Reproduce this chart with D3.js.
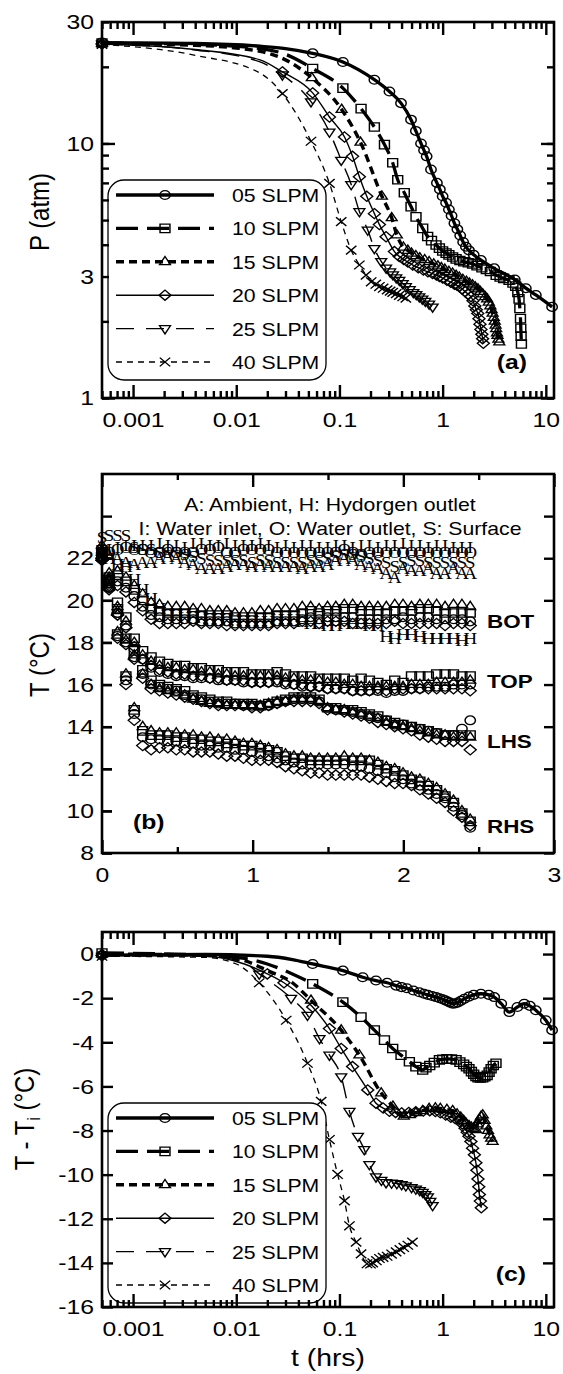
<!DOCTYPE html>
<html lang="en">
<head>
<meta charset="utf-8" />
<title>Pressure and temperature during discharge</title>
<script src="https://cdn.jsdelivr.net/npm/d3@7"></script>
<style>
  html, body { margin: 0; background: #fff; }
  svg { display: block; }
</style>
</head>
<body>
<script>
// ---------- data ----------

const flows = ["05", "10", "15", "20", "25", "40"];

// tick values / labels
const logTicks = [0.001, 0.01, 0.1, 1, 10];
const pTicks = [1, 3, 10, 30];
const hourTicks = [0, 1, 2, 3];
const hourMinor = [0.5, 1.5, 2.5];
const tempTicks = [8, 10, 12, 14, 16, 18, 20, 22];
const tempMarks = [8, 10, 12, 14, 16, 18, 20, 22, 24];
const dropTicks = [-16, -14, -12, -10, -8, -6, -4, -2, 0];

// (a) pressure [t hrs, P atm] : curve-only points and marked samples
const pCurve05 = [[0.004, 24.7], [0.017, 24.1], [0.03, 23.6]];
const pMarks05 = [[0.0005, 24.9], [0.055, 22.6], [0.108, 20.9], [0.218, 17.8], [0.305, 16.0], [0.395, 14.4],
  [0.494, 12.4], [0.55, 11.2], [0.617, 10.0], [0.66, 9.4], [0.70, 8.9], [0.771, 7.9], [0.88, 7.0], [0.94, 6.6],
  [1.0, 6.2], [1.08, 5.85], [1.15, 5.5], [1.22, 5.2], [1.30, 4.86], [1.39, 4.6], [1.48, 4.35], [1.58, 4.1],
  [1.68, 3.93], [1.8, 3.8], [2.0, 3.65], [2.35, 3.48], [3.16, 3.23], [5.0, 2.92], [6.4, 2.70], [8.0, 2.54], [11.5, 2.28]];
const pCurve10 = [[0.004, 24.5], [0.017, 23.6], [0.03, 22.4]];
const pMarks10 = [[0.0005, 24.8], [0.055, 19.7], [0.108, 16.5], [0.162, 13.7], [0.218, 11.6], [0.273, 9.9],
  [0.328, 8.4], [0.367, 7.2], [0.425, 6.4], [0.494, 5.65], [0.552, 5.15], [0.641, 4.64], [0.716, 4.31],
  [0.78, 4.15], [0.863, 3.99], [0.93, 3.88], [1.0, 3.78], [1.08, 3.71], [1.15, 3.65], [1.25, 3.58], [1.35, 3.52],
  [1.47, 3.47], [1.6, 3.43], [1.77, 3.4], [1.95, 3.36], [2.15, 3.31], [2.4, 3.25], [2.65, 3.2], [2.9, 3.14],
  [3.3, 3.04], [3.6, 2.99], [3.9, 2.95], [4.4, 2.9], [4.8, 2.83], [5.1, 2.75], [5.35, 2.6], [5.5, 2.45],
  [5.6, 2.25], [5.68, 2.05], [5.72, 1.88], [5.76, 1.75], [5.8, 1.63]];
const pCurve15 = [[0.004, 24.3], [0.017, 23.0], [0.03, 21.3]];
const pMarks15 = [[0.0005, 24.7], [0.054, 18.1], [0.105, 13.6], [0.16, 10.1], [0.258, 6.2], [0.321, 5.1],
  [0.36, 4.37], [0.417, 3.91], [0.46, 3.8], [0.5, 3.7], [0.55, 3.62], [0.6, 3.55], [0.67, 3.49], [0.74, 3.43],
  [0.82, 3.36], [0.9, 3.3], [0.97, 3.25], [1.05, 3.2], [1.15, 3.14], [1.25, 3.09], [1.35, 3.03], [1.45, 2.98],
  [1.57, 2.92], [1.7, 2.87], [1.82, 2.82], [1.95, 2.78], [2.07, 2.73], [2.2, 2.68], [2.32, 2.62], [2.45, 2.56],
  [2.58, 2.5], [2.7, 2.45], [2.8, 2.38], [2.9, 2.3], [2.98, 2.22], [3.05, 2.15], [3.13, 2.07], [3.2, 2.0],
  [3.26, 1.93], [3.3, 1.87], [3.36, 1.8], [3.4, 1.76], [3.47, 1.7], [3.54, 1.66]];
const pCurve20 = [[0.004, 23.4], [0.017, 21.3]];
const pMarks20 = [[0.0005, 24.6], [0.028, 19.1], [0.055, 15.8], [0.08, 12.7], [0.112, 10.6], [0.134, 8.9],
  [0.156, 7.4], [0.184, 6.2], [0.218, 5.3], [0.244, 4.8], [0.283, 4.3], [0.341, 3.76], [0.38, 3.6], [0.42, 3.5],
  [0.46, 3.42], [0.513, 3.33], [0.58, 3.25], [0.65, 3.18], [0.72, 3.13], [0.8, 3.08], [0.87, 3.04], [0.93, 3.0],
  [1.0, 2.96], [1.1, 2.9], [1.2, 2.85], [1.3, 2.8], [1.38, 2.77], [1.45, 2.74], [1.55, 2.68], [1.65, 2.62],
  [1.76, 2.56], [1.88, 2.5], [1.97, 2.41], [2.05, 2.3], [2.12, 2.22], [2.19, 2.15], [2.25, 2.05], [2.3, 1.95],
  [2.35, 1.86], [2.4, 1.78], [2.44, 1.71], [2.48, 1.64]];
const pCurve25 = [[0.004, 23.3], [0.017, 20.9]];
const pMarks25 = [[0.0005, 24.6], [0.028, 18.6], [0.053, 14.6], [0.08, 11.1], [0.104, 8.6], [0.13, 6.9],
  [0.156, 5.4], [0.188, 4.57], [0.218, 3.87], [0.254, 3.44], [0.283, 3.24], [0.31, 3.13], [0.33, 3.05],
  [0.355, 2.97], [0.38, 2.9], [0.41, 2.82], [0.44, 2.74], [0.48, 2.67], [0.52, 2.6], [0.555, 2.55], [0.594, 2.5],
  [0.635, 2.45], [0.68, 2.4], [0.74, 2.34], [0.8, 2.28]];
const pCurve40 = [[0.004, 22.2], [0.017, 18.9]];
const pMarks40 = [[0.0005, 24.5], [0.028, 15.7], [0.053, 10.2], [0.08, 6.97], [0.104, 4.93], [0.13, 3.81],
  [0.156, 3.33], [0.181, 3.04], [0.203, 2.86], [0.225, 2.8], [0.244, 2.74], [0.265, 2.7], [0.29, 2.66],
  [0.31, 2.63], [0.328, 2.6], [0.355, 2.57], [0.38, 2.53], [0.41, 2.5], [0.44, 2.47]];

// (c) temperature drop [t hrs, T - Ti]
const dCurve05 = [[0.005, -0.02], [0.02, -0.1], [0.035, -0.25]];
const dMarks05 = [[0.0005, -0.05], [0.055, -0.45], [0.108, -0.75], [0.168, -1.05], [0.226, -1.2], [0.29, -1.3],
  [0.354, -1.43], [0.4, -1.5], [0.45, -1.55], [0.52, -1.65], [0.594, -1.73], [0.66, -1.8], [0.72, -1.85],
  [0.79, -1.9], [0.863, -1.95], [0.93, -2.0], [1.0, -2.05], [1.06, -2.1], [1.12, -2.15], [1.18, -2.2],
  [1.25, -2.25], [1.32, -2.24], [1.4, -2.2], [1.5, -2.12], [1.62, -2.03], [1.8, -1.93], [2.0, -1.85],
  [2.35, -1.8], [2.8, -1.85], [3.16, -1.95], [3.7, -2.25], [4.43, -2.63], [5.3, -2.4], [6.18, -2.25],
  [7.0, -2.35], [8.0, -2.55], [10.0, -3.0], [11.5, -3.45]];
const dCurve10 = [[0.005, -0.05], [0.012, -0.2], [0.02, -0.45], [0.035, -0.9]];
const dMarks10 = [[0.0005, 0.05], [0.055, -1.35], [0.108, -2.18], [0.162, -2.86], [0.218, -3.45], [0.273, -3.9],
  [0.328, -4.28], [0.395, -4.58], [0.476, -4.88], [0.55, -5.1], [0.641, -5.25], [0.69, -5.15], [0.75, -5.05],
  [0.83, -4.92], [0.93, -4.8], [1.0, -4.77], [1.1, -4.75], [1.22, -4.76], [1.35, -4.8], [1.47, -4.9],
  [1.6, -5.0], [1.7, -5.1], [1.8, -5.2], [1.9, -5.33], [2.0, -5.45], [2.1, -5.55], [2.2, -5.6], [2.32, -5.62],
  [2.45, -5.6], [2.57, -5.56], [2.7, -5.5], [2.82, -5.35], [2.95, -5.2], [3.1, -5.05], [3.29, -4.95]];
const dCurve15 = [[0.005, -0.05], [0.012, -0.3], [0.02, -0.75], [0.035, -1.3]];
const dMarks15 = [[0.0005, 0.0], [0.053, -2.1], [0.104, -3.45], [0.156, -4.58], [0.254, -6.3], [0.33, -6.9],
  [0.42, -7.35], [0.48, -7.28], [0.55, -7.2], [0.64, -7.1], [0.74, -7.0], [0.85, -6.98], [0.95, -7.0],
  [1.1, -7.05], [1.25, -7.1], [1.38, -7.25], [1.5, -7.4], [1.6, -7.55], [1.68, -7.66], [1.8, -7.78],
  [1.9, -7.85], [2.0, -7.92], [2.1, -7.96], [2.18, -7.7], [2.27, -7.5], [2.36, -7.35], [2.45, -7.3],
  [2.55, -7.55], [2.65, -7.8], [2.75, -8.0], [2.85, -8.2], [2.95, -8.35], [3.05, -8.5]];
const dCurve20 = [[0.005, -0.1], [0.012, -0.45]];
const dMarks20 = [[0.0005, -0.05], [0.02, -0.9], [0.029, -1.3], [0.055, -2.4], [0.08, -3.38], [0.104, -4.28],
  [0.134, -5.1], [0.188, -6.16], [0.226, -6.76], [0.265, -6.98], [0.305, -7.13], [0.35, -7.18], [0.4, -7.2],
  [0.47, -7.18], [0.55, -7.15], [0.65, -7.12], [0.75, -7.1], [0.85, -7.14], [0.95, -7.2], [1.07, -7.3],
  [1.2, -7.4], [1.32, -7.45], [1.45, -7.5], [1.55, -7.7], [1.65, -7.9], [1.73, -8.08], [1.8, -8.26],
  [1.88, -8.5], [1.95, -8.8], [2.03, -9.1], [2.1, -9.46], [2.15, -9.8], [2.2, -10.2], [2.24, -10.55],
  [2.27, -10.9], [2.32, -11.2], [2.37, -11.5]];
const dCurve25 = [[0.005, -0.08], [0.012, -0.4]];
const dMarks25 = [[0.0005, -0.1], [0.0167, -0.9], [0.034, -2.0], [0.049, -2.77], [0.064, -3.83], [0.08, -4.58],
  [0.104, -5.56], [0.125, -7.13], [0.151, -8.26], [0.174, -8.86], [0.195, -9.54], [0.226, -10.1], [0.255, -10.25],
  [0.283, -10.36], [0.32, -10.38], [0.36, -10.4], [0.4, -10.45], [0.44, -10.5], [0.5, -10.58], [0.55, -10.65],
  [0.6, -10.72], [0.641, -10.8], [0.68, -10.9], [0.72, -11.0], [0.76, -11.2], [0.8, -11.4]];
const dCurve40 = [[0.005, -0.15], [0.01, -0.45]];
const dMarks40 = [[0.0005, -0.1], [0.0167, -1.3], [0.0305, -3.0], [0.049, -4.95], [0.0665, -6.68], [0.08, -8.41],
  [0.096, -9.99], [0.112, -11.19], [0.125, -12.32], [0.145, -13.06], [0.162, -13.59], [0.185, -14.04],
  [0.2, -14.05], [0.21, -14.0], [0.228, -13.9], [0.244, -13.8], [0.265, -13.75], [0.29, -13.7], [0.32, -13.6],
  [0.354, -13.5], [0.385, -13.4], [0.42, -13.3], [0.46, -13.2], [0.51, -13.06]];

// (b) surface temperatures, sampled every ~0.056 h
const tB = [0, 0.047, 0.103, 0.159, 0.214, 0.27, 0.326, 0.382, 0.437, 0.493, 0.549, 0.605, 0.66, 0.716, 0.772,
  0.828, 0.883, 0.939, 0.995, 1.051, 1.106, 1.162, 1.218, 1.274, 1.329, 1.385, 1.441, 1.497, 1.552, 1.608,
  1.664, 1.72, 1.775, 1.831, 1.887, 1.943, 1.998, 2.054, 2.11, 2.166, 2.221, 2.277, 2.333, 2.389, 2.444];

const botSq = [22.4, 21.1, 21.2, 20.9, 20.5, 20.0, 19.6, 19.5, 19.4, 19.4, 19.4, 19.4, 19.3, 19.3, 19.3,
  19.3, 19.2, 19.2, 19.2, 19.2, 19.2, 19.3, 19.3, 19.3, 19.4, 19.5, 19.4, 19.5, 19.5, 19.6,
  19.6, 19.5, 19.5, 19.5, 19.4, 19.5, 19.5, 19.5, 19.6, 19.6, 19.5, 19.4, 19.4, 19.4, 19.4];
const botTri = [22.6, 21.3, 21.4, 21.1, 20.7, 20.3, 19.9, 19.8, 19.7, 19.7, 19.7, 19.6, 19.6, 19.5, 19.5,
  19.5, 19.4, 19.4, 19.4, 19.5, 19.5, 19.6, 19.6, 19.6, 19.7, 19.7, 19.6, 19.7, 19.7, 19.8,
  19.8, 19.7, 19.7, 19.7, 19.7, 19.8, 19.8, 19.7, 19.8, 19.8, 19.8, 19.7, 19.8, 19.8, 19.7];
const botCirc = [22.2, 20.9, 20.9, 20.6, 20.2, 19.7, 19.3, 19.2, 19.1, 19.1, 19.1, 19.1, 19.0, 19.0, 19.0,
  19.0, 18.9, 18.9, 18.9, 18.9, 18.9, 19.0, 19.0, 19.0, 19.1, 19.2, 19.1, 19.2, 19.2, 19.2,
  19.2, 19.1, 19.1, 19.1, 19.1, 19.1, 19.2, 19.1, 19.2, 19.2, 19.1, 19.1, 19.1, 19.1, 19.0];
const botDia = [22.0, 20.6, 20.7, 20.4, 19.9, 19.5, 19.1, 18.9, 18.9, 18.9, 18.9, 19.0, 18.9, 18.9, 18.9,
  18.8, 18.8, 18.8, 18.8, 18.8, 18.8, 18.9, 18.9, 18.9, 19.0, 19.0, 18.9, 19.0, 19.0, 19.0,
  18.9, 18.9, 18.9, 18.9, 18.9, 19.0, 18.9, 18.9, 18.9, 18.9, 18.9, 18.8, 18.9, 18.9, 18.8];

const topSq = [22.3, 21.0, 19.9, 19.2, 18.2, 17.6, 17.3, 17.1, 17.0, 16.9, 16.9, 16.8, 16.8, 16.7, 16.7,
  16.6, 16.6, 16.6, 16.5, 16.5, 16.5, 16.6, 16.5, 16.4, 16.4, 16.4, 16.3, 16.3, 16.3, 16.3,
  16.2, 16.3, 16.2, 16.1, 16.0, 16.2, 16.1, 16.4, 16.4, 16.4, 16.5, 16.5, 16.5, 16.4, 16.4];
const topTri = [22.4, 21.1, 19.7, 19.0, 18.0, 17.4, 17.1, 16.9, 16.8, 16.8, 16.7, 16.7, 16.6, 16.6, 16.5,
  16.5, 16.4, 16.4, 16.4, 16.4, 16.4, 16.4, 16.3, 16.3, 16.2, 16.2, 16.2, 16.1, 16.1, 16.0,
  16.0, 15.9, 15.9, 15.9, 15.9, 15.9, 15.9, 16.0, 16.0, 16.0, 16.1, 16.1, 16.1, 16.1, 16.2];
const topCirc = [22.1, 20.8, 19.4, 18.8, 17.7, 17.2, 16.8, 16.6, 16.5, 16.4, 16.4, 16.3, 16.3, 16.3, 16.2,
  16.2, 16.2, 16.1, 16.1, 16.1, 16.1, 16.1, 16.0, 16.0, 15.9, 15.9, 15.9, 15.8, 15.8, 15.8,
  15.7, 15.7, 15.7, 15.7, 15.6, 15.7, 15.7, 15.8, 15.8, 15.9, 15.9, 15.9, 16.0, 16.0, 16.0];
const topDia = [22.0, 20.7, 19.3, 18.7, 17.8, 17.2, 16.9, 16.7, 16.6, 16.5, 16.5, 16.4, 16.4, 16.3, 16.3,
  16.2, 16.2, 16.2, 16.1, 16.1, 16.1, 16.2, 16.1, 16.0, 16.0, 15.9, 15.9, 15.8, 15.8, 15.8,
  15.7, 15.7, 15.7, 15.8, 15.7, 15.8, 15.8, 15.8, 15.8, 15.8, 15.8, 15.8, 15.8, 15.8, 15.7];

const lhsSq = [22.2, 20.9, 19.6, 18.2, 17.6, 16.7, 16.2, 16.0, 15.9, 15.8, 15.7, 15.5, 15.4, 15.3, 15.2,
  15.2, 15.1, 15.1, 15.1, 15.0, 15.1, 15.2, 15.3, 15.4, 15.4, 15.4, 15.3, 14.9, 14.9, 14.8,
  14.8, 14.7, 14.6, 14.5, 14.3, 14.2, 14.1, 14.0, 13.9, 13.8, 13.7, 13.6, 13.6, 13.6, 13.6];
const lhsTri = [22.3, 21.0, 19.5, 18.1, 17.4, 16.5, 16.0, 15.8, 15.7, 15.6, 15.5, 15.3, 15.2, 15.1, 15.1,
  15.0, 15.0, 15.0, 15.0, 15.0, 15.1, 15.2, 15.2, 15.3, 15.3, 15.3, 15.2, 14.9, 14.8, 14.8,
  14.7, 14.6, 14.5, 14.4, 14.2, 14.1, 14.0, 13.9, 13.8, 13.7, 13.6, 13.6, 13.5, 13.5, 13.5];
const lhsCirc = [22.0, 20.8, 19.4, 18.0, 17.3, 16.5, 16.0, 15.9, 15.8, 15.7, 15.5, 15.4, 15.3, 15.2, 15.1,
  15.1, 15.1, 15.0, 15.0, 15.0, 15.0, 15.1, 15.2, 15.3, 15.3, 15.3, 15.2, 14.9, 14.8, 14.8,
  14.7, 14.6, 14.5, 14.4, 14.3, 14.1, 14.1, 14.0, 13.9, 13.8, 13.7, 13.6, 13.6, 13.9, 14.3];
const lhsDia = [21.9, 20.6, 19.3, 17.9, 17.2, 16.3, 15.8, 15.7, 15.6, 15.5, 15.4, 15.3, 15.2, 15.1, 15.0,
  15.0, 15.0, 15.0, 14.9, 14.9, 15.0, 15.1, 15.2, 15.2, 15.2, 15.2, 15.1, 14.8, 14.8, 14.7,
  14.6, 14.5, 14.4, 14.2, 14.1, 14.0, 13.9, 13.8, 13.6, 13.5, 13.4, 13.3, 13.3, 13.3, 12.9];

const rhsSq = [22.1, 20.8, 18.4, 16.4, 14.8, 13.8, 13.6, 13.6, 13.6, 13.5, 13.5, 13.4, 13.4, 13.3, 13.3,
  13.2, 13.2, 13.1, 13.1, 13.0, 12.9, 12.8, 12.6, 12.5, 12.5, 12.4, 12.4, 12.4, 12.4, 12.4,
  12.4, 12.4, 12.4, 12.2, 12.0, 11.9, 11.7, 11.5, 11.4, 11.2, 11.0, 10.7, 10.4, 9.9, 9.5];
const rhsTri = [22.3, 20.9, 18.5, 16.5, 14.9, 14.0, 13.8, 13.7, 13.7, 13.7, 13.6, 13.6, 13.5, 13.5, 13.4,
  13.4, 13.3, 13.2, 13.2, 13.1, 13.0, 12.9, 12.7, 12.6, 12.6, 12.5, 12.5, 12.5, 12.5, 12.6,
  12.5, 12.5, 12.4, 12.3, 12.1, 12.0, 11.8, 11.6, 11.5, 11.3, 11.1, 10.8, 10.5, 10.0, 9.6];
const rhsCirc = [22.0, 20.6, 18.3, 16.2, 14.6, 13.5, 13.4, 13.4, 13.3, 13.3, 13.2, 13.2, 13.1, 13.1, 13.0,
  13.0, 12.9, 12.9, 12.8, 12.7, 12.6, 12.5, 12.4, 12.3, 12.2, 12.2, 12.2, 12.2, 12.2, 12.2,
  12.1, 12.1, 12.0, 11.9, 11.8, 11.6, 11.5, 11.3, 11.2, 11.0, 10.8, 10.6, 10.2, 9.8, 9.2];
const rhsDia = [21.9, 20.5, 18.2, 16.0, 14.3, 13.1, 12.9, 13.0, 13.0, 12.9, 12.9, 12.8, 12.8, 12.8, 12.7,
  12.6, 12.6, 12.5, 12.4, 12.4, 12.4, 12.3, 12.1, 12.0, 11.9, 11.8, 11.8, 11.7, 11.7, 11.7,
  11.7, 11.7, 11.6, 11.5, 11.4, 11.3, 11.3, 11.2, 11.0, 10.8, 10.6, 10.4, 10.0, 9.7, 9.3];

// letter-marked probes
const letI = [22.5, 22.4, 22.5, 22.6, 22.6, 22.6, 22.6, 22.7, 22.6, 22.6, 22.5, 22.7, 22.7, 22.6, 22.6,
  22.7, 22.6, 22.6, 22.6, 22.7, 22.6, 22.5, 22.6, 22.5, 22.6, 22.6, 22.5, 22.5, 22.6, 22.6,
  22.5, 22.6, 22.6, 22.5, 22.6, 22.6, 22.7, 22.6, 22.6, 22.5, 22.6, 22.6, 22.5, 22.5, 22.5];
const letO = [22.4, 22.3, 22.4, 22.5, 22.4, 22.4, 22.3, 22.3, 22.4, 22.3, 22.3, 22.3, 22.4, 22.4, 22.5,
  22.3, 22.3, 22.4, 22.4, 22.4, 22.4, 22.3, 22.3, 22.3, 22.3, 22.3, 22.3, 22.3, 22.3, 22.4,
  22.3, 22.2, 22.3, 22.3, 22.3, 22.3, 22.3, 22.3, 22.3, 22.3, 22.3, 22.3, 22.3, 22.3, 22.3];
const letS = [23.0, 23.1, 23.1, 23.1, 22.5, 22.4, 22.4, 22.3, 22.3, 22.3, 22.2, 22.1, 22.0, 21.9, 21.9,
  21.9, 21.9, 21.9, 21.8, 21.9, 21.9, 21.8, 21.8, 21.8, 21.8, 21.9, 21.9, 22.0, 22.1, 22.2,
  22.2, 22.1, 22.0, 21.9, 21.8, 21.6, 21.8, 21.9, 21.9, 21.8, 21.8, 21.8, 21.8, 21.8, 21.8];
const letA = [22.2, 22.2, 22.0, 21.8, 21.7, 21.8, 21.8, 22.0, 22.1, 22.0, 21.8, 21.7, 21.5, 21.5, 21.5,
  21.6, 21.7, 21.7, 21.6, 21.7, 21.6, 21.6, 21.6, 21.6, 21.5, 21.6, 21.6, 21.7, 21.9, 22.0,
  21.9, 21.7, 21.6, 21.5, 21.3, 21.1, 21.5, 21.4, 21.4, 21.5, 21.3, 21.3, 21.5, 21.3, 21.3];
const letH = [22.3, 22.0, 21.7, 21.6, 21.0, 20.5, 20.1, 19.6, 19.3, 19.3, 19.2, 19.2, 19.2, 19.1, 19.1,
  19.1, 19.1, 19.0, 19.0, 19.0, 19.0, 19.1, 19.1, 19.1, 19.0, 18.9, 18.9, 18.8, 18.8, 18.9,
  18.9, 18.9, 18.8, 18.8, 18.3, 18.2, 18.4, 18.4, 18.3, 18.2, 18.2, 18.2, 18.2, 18.1, 18.2];

// ---------- drawing ----------
const FONT = "'Liberation Sans', Arial, Helvetica, sans-serif";
const SERIF = "'Liberation Serif', 'Times New Roman', serif";
const SX = 1.18;            // the scanned figure is stretched sideways a bit
const W = 563, H = 1374;
const L = 102, R = 554;

const svg = d3.select("body").append("svg")
  .attr("width", W).attr("height", H)
  .attr("font-family", FONT);

const xT = d3.scaleLog().domain([0.0005, 12]).range([L, R]);
const yP = d3.scaleLog().domain([1, 30]).range([398, 22]);
const xB = d3.scaleLinear().domain([0, 3]).range([L, R]);
const yB = d3.scaleLinear().domain([8, 26]).range([853, 474]);
const yC = d3.scaleLinear().domain([-16, 1]).range([1307, 932]);

const style = {
  "05": { w: 3.3, dash: null, shape: "circle" },
  "10": { w: 3.3, dash: "22,9", shape: "square" },
  "15": { w: 3.4, dash: "8,5", shape: "triUp" },
  "20": { w: 1.4, dash: null, shape: "diamond" },
  "25": { w: 1.4, dash: "18,12", shape: "triDown" },
  "40": { w: 1.3, dash: "6,5", shape: "cross" }
};

const shape = {
  circle: r => `M${r},0A${r},${r} 0 1,1 ${-r},0A${r},${r} 0 1,1 ${r},0Z`,
  square: r => `M${-r},${-r}H${r}V${r}H${-r}Z`,
  triUp: r => `M0,${-1.2 * r}L${1.05 * r},${0.65 * r}L${-1.05 * r},${0.65 * r}Z`,
  triDown: r => `M0,${1.2 * r}L${1.05 * r},${-0.65 * r}L${-1.05 * r},${-0.65 * r}Z`,
  diamond: r => `M0,${-r}L${r},0L0,${r}L${-r},0Z`,
  cross: r => `M${-r},${-r}L${r},${r}M${-r},${r}L${r},${-r}`
};
const markR = { circle: 4.4, square: 4.2, triUp: 4.4, triDown: 4.4, diamond: 5.1, cross: 4.4 };

function txt(g, x, y, s, size, anchor, weight) {
  return g.append("text")
    .attr("transform", `translate(${x},${y}) scale(${SX},1)`)
    .attr("text-anchor", anchor || "start")
    .style("font-size", size + "px")
    .style("font-weight", weight || "normal")
    .text(s);
}

function drawMarks(g, pts, xs, ys, kind) {
  g.append("g").selectAll("path").data(pts).join("path")
    .attr("transform", d => `translate(${xs(d[0])},${ys(d[1])}) scale(${SX},1)`)
    .attr("d", shape[kind](markR[kind]))
    .attr("fill", "none").attr("stroke", "#000").attr("stroke-width", 1.25);
}

function axis(g, axisFn, scale, vals, len, at, fmt, pad) {
  const a = axisFn(scale).tickValues(vals).tickSizeInner(-len).tickSizeOuter(0)
    .tickPadding(pad || 0).tickFormat(fmt || (() => ""));
  const ag = g.append("g").attr("transform", at).call(a)
    .attr("font-family", FONT).attr("font-size", 21);
  ag.select(".domain").remove();
  ag.selectAll(".tick line").attr("stroke", "#000").attr("stroke-width", 2.4);
  ag.selectAll(".tick text").attr("fill", "#000").attr("transform", `scale(${SX},1)`);
  return ag;
}

function frame(g, top, bottom) {
  g.append("rect").attr("x", L).attr("y", top).attr("width", R - L).attr("height", bottom - top)
    .attr("fill", "none").attr("stroke", "#000").attr("stroke-width", 2.6);
}

function yTitle(g, x, y) {
  return g.append("text")
    .attr("transform", `translate(${x},${y}) scale(${SX},1) rotate(-90)`)
    .attr("text-anchor", "middle").style("font-size", "24px");
}

const lbl = String;
const near = (a, b) => Math.abs(a / b - 1) < 1e-6;

function logXAxes(g, top, bottom, withLabels) {
  const minor = xT.ticks().filter(v => !logTicks.some(m => near(v, m)));
  axis(g, d3.axisBottom, xT, logTicks, 13, `translate(0,${bottom})`, withLabels ? lbl : null, 14);
  axis(g, d3.axisBottom, xT, minor, 7, `translate(0,${bottom})`);
  axis(g, d3.axisTop, xT, logTicks, 13, `translate(0,${top})`);
  axis(g, d3.axisTop, xT, minor, 7, `translate(0,${top})`);
}

function legend(g, top) {
  g.append("rect").attr("x", 108).attr("y", top).attr("width", 218).attr("height", 200).attr("rx", 16)
    .attr("fill", "#fff").attr("stroke", "#000").attr("stroke-width", 1.3);
  const rows = g.append("g").selectAll("g").data(flows).join("g")
    .attr("transform", (d, i) => `translate(0,${top + 15 + i * 33.4})`);
  rows.append("line").attr("x1", 116).attr("x2", 214)
    .attr("stroke", "#000").attr("stroke-width", d => style[d].w).attr("stroke-dasharray", d => style[d].dash);
  rows.append("path")
    .attr("transform", `translate(165,0) scale(${SX},1)`)
    .attr("d", d => shape[style[d].shape](markR[style[d].shape]))
    .attr("fill", "none").attr("stroke", "#000").attr("stroke-width", 1.25);
  rows.each(function (d) { txt(d3.select(this), 232, 7, `${d} SLPM`, 18); });
}

function drawFlowSeries(g, series, ys) {
  const line = d3.line().x(d => xT(d[0])).y(d => ys(d[1])).curve(d3.curveMonotoneX);
  series.forEach(s => {
    const st = style[s.flow];
    const pts = s.curve.concat(s.marks).sort((a, b) => a[0] - b[0]);
    g.append("path").attr("d", line(pts)).attr("fill", "none").attr("stroke", "#000")
      .attr("stroke-width", st.w).attr("stroke-dasharray", st.dash);
  });
  series.forEach(s => drawMarks(g, s.marks, xT, ys, style[s.flow].shape));
}

// ---------- panel (a) ----------
{
  const g = svg.append("g");
  const series = [
    { flow: "05", curve: pCurve05, marks: pMarks05 },
    { flow: "10", curve: pCurve10, marks: pMarks10 },
    { flow: "15", curve: pCurve15, marks: pMarks15 },
    { flow: "20", curve: pCurve20, marks: pMarks20 },
    { flow: "25", curve: pCurve25, marks: pMarks25 },
    { flow: "40", curve: pCurve40, marks: pMarks40 }
  ];
  drawFlowSeries(g, series, yP);
  legend(g, 180);

  const yMinor = yP.ticks().filter(v => !pTicks.some(m => near(v, m)));
  const yLong = [1, 10];
  axis(g, d3.axisLeft, yP, pTicks, 7, `translate(${L},0)`, lbl, 6.8);
  axis(g, d3.axisLeft, yP, yLong, 13, `translate(${L},0)`);
  axis(g, d3.axisLeft, yP, yMinor, 7, `translate(${L},0)`);
  axis(g, d3.axisRight, yP, pTicks, 7, `translate(${R},0)`);
  axis(g, d3.axisRight, yP, yLong, 13, `translate(${R},0)`);
  axis(g, d3.axisRight, yP, yMinor, 7, `translate(${R},0)`);
  logXAxes(g, 22, 398, true);
  frame(g, 22, 398);

  yTitle(g, 49, 212).text("P (atm)");
  txt(g, 527, 369, "(a)", 21, "end", "bold");
}

// ---------- panel (b) ----------
{
  const g = svg.append("g");
  const groups = [
    [botSq, botTri, botCirc, botDia],
    [topSq, topTri, topCirc, topDia],
    [lhsSq, lhsTri, lhsCirc, lhsDia],
    [rhsSq, rhsTri, rhsCirc, rhsDia]
  ];
  const kinds = ["square", "triUp", "circle", "diamond"];
  groups.forEach(grp => grp.forEach((vals, k) => {
    drawMarks(g, tB.map((t, i) => [t, vals[i]]), xB, yB, kinds[k]);
  }));

  // the probe letters are the plot symbols themselves
  const letters = [["H", letH], ["A", letA], ["S", letS], ["O", letO], ["I", letI]];
  letters.forEach(([ch, vals]) => {
    g.append("g").selectAll("text").data(tB.map((t, i) => [t, vals[i]])).join("text")
      .attr("transform", d => `translate(${xB(d[0])},${yB(d[1])}) scale(${SX},1)`)
      .attr("text-anchor", "middle").attr("dy", "0.35em")
      .style("font-family", SERIF).style("font-size", "16px")
      .text(ch);
  });

  axis(g, d3.axisBottom, xB, hourTicks, 13, `translate(0,853)`, lbl, 14);
  axis(g, d3.axisBottom, xB, hourMinor, 6, `translate(0,853)`);
  axis(g, d3.axisTop, xB, hourTicks, 13, `translate(0,474)`);
  axis(g, d3.axisTop, xB, hourMinor, 6, `translate(0,474)`);
  axis(g, d3.axisLeft, yB, tempTicks, 10, `translate(${L},0)`, lbl, 6.8);
  axis(g, d3.axisLeft, yB, tempMarks, 10, `translate(${L},0)`);
  axis(g, d3.axisRight, yB, tempMarks, 10, `translate(${R},0)`);
  frame(g, 474, 853);

  yTitle(g, 49, 665).text("T (°C)");
  txt(g, 330, 511, "A: Ambient, H: Hydorgen outlet", 18, "middle");
  txt(g, 330, 535, "I: Water inlet, O: Water outlet, S: Surface", 18, "middle");
  txt(g, 487, 628, "BOT", 19, "start", "bold");
  txt(g, 487, 688, "TOP", 19, "start", "bold");
  txt(g, 487, 748, "LHS", 19, "start", "bold");
  txt(g, 487, 833, "RHS", 19, "start", "bold");
  txt(g, 133, 829, "(b)", 21, "start", "bold");
}

// ---------- panel (c) ----------
{
  const g = svg.append("g");
  const series = [
    { flow: "05", curve: dCurve05, marks: dMarks05 },
    { flow: "10", curve: dCurve10, marks: dMarks10 },
    { flow: "15", curve: dCurve15, marks: dMarks15 },
    { flow: "20", curve: dCurve20, marks: dMarks20 },
    { flow: "25", curve: dCurve25, marks: dMarks25 },
    { flow: "40", curve: dCurve40, marks: dMarks40 }
  ];
  drawFlowSeries(g, series, yC);
  legend(g, 1103);

  axis(g, d3.axisLeft, yC, dropTicks, 11, `translate(${L},0)`, lbl, 6.8);
  axis(g, d3.axisRight, yC, dropTicks, 11, `translate(${R},0)`);
  logXAxes(g, 932, 1307, true);
  frame(g, 932, 1307);

  const tt = yTitle(g, 34, 1119);
  tt.append("tspan").text("T - T");
  tt.append("tspan").attr("dy", 5).style("font-size", "15px").text("i");
  tt.append("tspan").attr("dy", -5).text(" (°C)");
  txt(g, 328, 1366, "t (hrs)", 24, "middle");
  txt(g, 526, 1281, "(c)", 21, "end", "bold");
}
</script>
</body>
</html>
